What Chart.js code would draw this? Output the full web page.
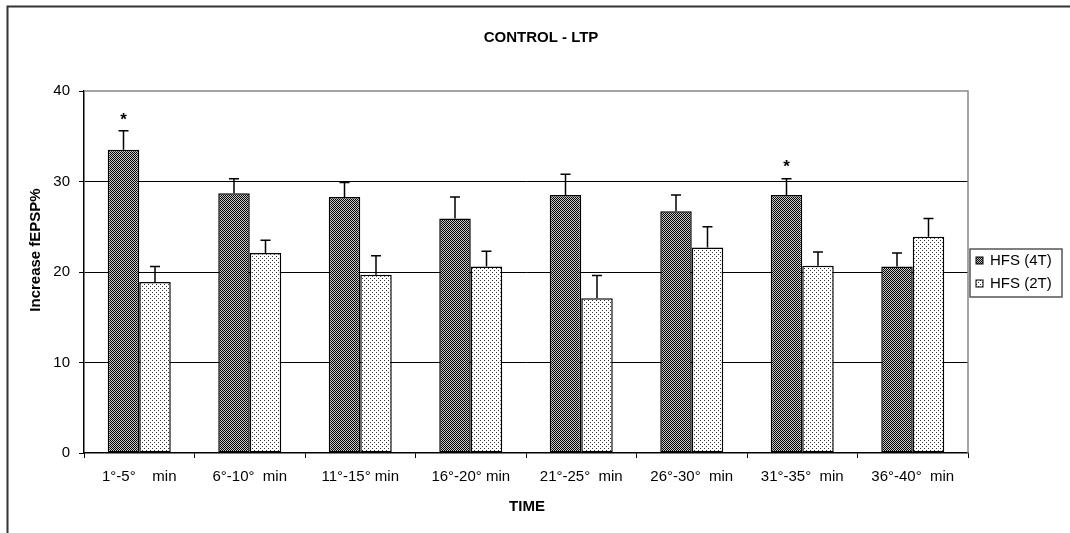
<!DOCTYPE html>
<html>
<head>
<meta charset="utf-8">
<script src="https://cdn.jsdelivr.net/npm/chart.js@4"></script>
<style>
  html, body { margin: 0; padding: 0; background: #fff; }
  #wrap { width: 1070px; height: 533px; }
</style>
</head>
<body>
<div id="wrap"><canvas id="ltpChart" width="1070" height="533"></canvas></div>
<script>
// data
const categories = ['1°-5°    min', '6°-10°  min', '11°-15° min', '16°-20° min',
                    '21°-25°  min', '26°-30°  min', '31°-35°  min', '36°-40°  min'];
const hfs4T = [33.5, 28.7, 28.3, 25.9, 28.5, 26.7, 28.5, 20.6];
const hfs4TErr = [2.1, 1.6, 1.6, 2.4, 2.3, 1.8, 1.8, 1.5];
const hfs2T = [18.9, 22.1, 19.7, 20.6, 17.1, 22.7, 20.7, 23.9];
const hfs2TErr = [1.7, 1.4, 2.1, 1.7, 2.5, 2.3, 1.5, 2.0];
const significant4T = [true, false, false, false, false, false, true, false];
const yTicks = [0, 10, 20, 30, 40];
const seriesNames = ['HFS (4T)', 'HFS (2T)'];

const FONT = '"Liberation Sans", Arial, sans-serif';

// fill patterns like the old Excel hatch fills
function makePattern(bg, fg, dots) {
  const c = document.createElement('canvas');
  c.width = 4; c.height = 4;
  const g = c.getContext('2d');
  g.fillStyle = bg;
  g.fillRect(0, 0, 4, 4);
  g.fillStyle = fg;
  dots.forEach(d => g.fillRect(d[0], d[1], 1, 1));
  return g.createPattern(c, 'repeat');
}
// small checkerboard for 4T, sparse dots for 2T
const darkFill = makePattern('#000', '#c8c8c8',
  [[1, 0], [3, 0], [0, 1], [2, 1], [1, 2], [3, 2], [0, 3], [2, 3]]);
const lightFill = makePattern('#fff', '#333', [[0, 0], [2, 2]]);

const errors = [hfs4TErr, hfs2TErr];

const errorBarPlugin = {
  id: 'errorBars',
  afterDatasetsDraw(chart) {
    const ctx = chart.ctx;
    const y = chart.scales.y;
    ctx.save();
    ctx.strokeStyle = '#000';
    ctx.lineWidth = 1.5;
    chart.data.datasets.forEach((ds, di) => {
      const meta = chart.getDatasetMeta(di);
      meta.data.forEach((bar, i) => {
        const top = y.getPixelForValue(ds.data[i] + errors[di][i]);
        ctx.beginPath();
        ctx.moveTo(bar.x, bar.y);
        ctx.lineTo(bar.x, top);
        ctx.moveTo(bar.x - 5, top);
        ctx.lineTo(bar.x + 5, top);
        ctx.stroke();
        if (di === 0 && significant4T[i]) {
          ctx.fillStyle = '#000';
          ctx.font = 'bold 17px ' + FONT;
          ctx.textAlign = 'center';
          ctx.textBaseline = 'middle';
          ctx.fillText('*', bar.x, top - 11);
        }
      });
    });
    ctx.restore();
  }
};

const framePlugin = {
  id: 'frame',
  afterDraw(chart) {
    const ctx = chart.ctx;
    const a = chart.chartArea;
    ctx.save();
    // outer chart border
    ctx.strokeStyle = '#333';
    ctx.lineWidth = 2;
    ctx.beginPath();
    ctx.moveTo(7.5, 533);
    ctx.lineTo(7.5, 6.5);
    ctx.lineTo(1070, 6.5);
    ctx.stroke();
    // plot area border top/right
    ctx.strokeStyle = '#888';
    ctx.lineWidth = 1.5;
    ctx.beginPath();
    ctx.moveTo(a.left, a.top);
    ctx.lineTo(a.right, a.top);
    ctx.lineTo(a.right, a.bottom);
    ctx.stroke();

    ctx.fillStyle = '#000';
    ctx.font = 'bold 15px ' + FONT;
    ctx.textAlign = 'center';
    ctx.textBaseline = 'middle';
    ctx.fillText('CONTROL - LTP', 541, 38);
    ctx.fillText('TIME', 527, 507);
    ctx.save();
    ctx.translate(36, 250);
    ctx.rotate(-Math.PI / 2);
    ctx.fillText('Increase fEPSP%', 0, 0);
    ctx.restore();

    // legend
    ctx.strokeStyle = '#555';
    ctx.lineWidth = 1.5;
    ctx.fillStyle = '#fff';
    ctx.fillRect(970, 249, 92, 48);
    ctx.strokeRect(970, 249, 92, 48);
    ctx.font = '15px ' + FONT;
    ctx.textAlign = 'left';
    const fills = [darkFill, lightFill];
    seriesNames.forEach((name, i) => {
      const cy = 261 + i * 23;
      ctx.fillStyle = fills[i];
      ctx.fillRect(976, cy - 4, 7, 7);
      ctx.strokeStyle = '#000';
      ctx.lineWidth = 1;
      ctx.strokeRect(976, cy - 4, 7, 7);
      ctx.fillStyle = '#000';
      ctx.fillText(name, 990, cy);
    });
    ctx.restore();
  }
};

new Chart(document.getElementById('ltpChart'), {
  type: 'bar',
  data: {
    labels: categories,
    datasets: [{
      label: seriesNames[0],
      data: hfs4T,
      backgroundColor: darkFill,
      borderColor: '#000',
      borderWidth: 1.5,
      borderSkipped: false
    }, {
      label: seriesNames[1],
      data: hfs2T,
      backgroundColor: lightFill,
      borderColor: '#000',
      borderWidth: 1.5,
      borderSkipped: false
    }]
  },
  options: {
    responsive: false,
    animation: false,
    devicePixelRatio: 1,
    categoryPercentage: 0.57,
    barPercentage: 1,
    layout: { padding: { left: 0, top: 91, right: 102, bottom: 0 } },
    plugins: {
      legend: { display: false },
      tooltip: { enabled: false }
    },
    scales: {
      x: {
        afterFit: s => { s.height = 80; },
        grid: {
          offset: true,
          drawOnChartArea: false,
          tickLength: 5,
          tickColor: '#000'
        },
        border: { color: '#000', width: 1.5 },
        ticks: {
          color: '#000',
          padding: 10,
          maxRotation: 0,
          autoSkip: false,
          font: { family: FONT, size: 15 }
        }
      },
      y: {
        min: yTicks[0],
        max: yTicks[yTicks.length - 1],
        afterFit: s => { s.width = 84; },
        afterBuildTicks: s => { s.ticks = yTicks.map(v => ({ value: v })); },
        grid: {
          color: c => (c.tick && c.tick.value > 0 && c.tick.value < 40) ? '#000' : 'rgba(0,0,0,0)',
          tickColor: '#000',
          tickLength: 5,
          lineWidth: 1
        },
        border: { color: '#000', width: 1.5 },
        ticks: {
          color: '#000',
          padding: 9,
          font: { family: FONT, size: 15 }
        }
      }
    }
  },
  plugins: [errorBarPlugin, framePlugin]
});
</script>
</body>
</html>
